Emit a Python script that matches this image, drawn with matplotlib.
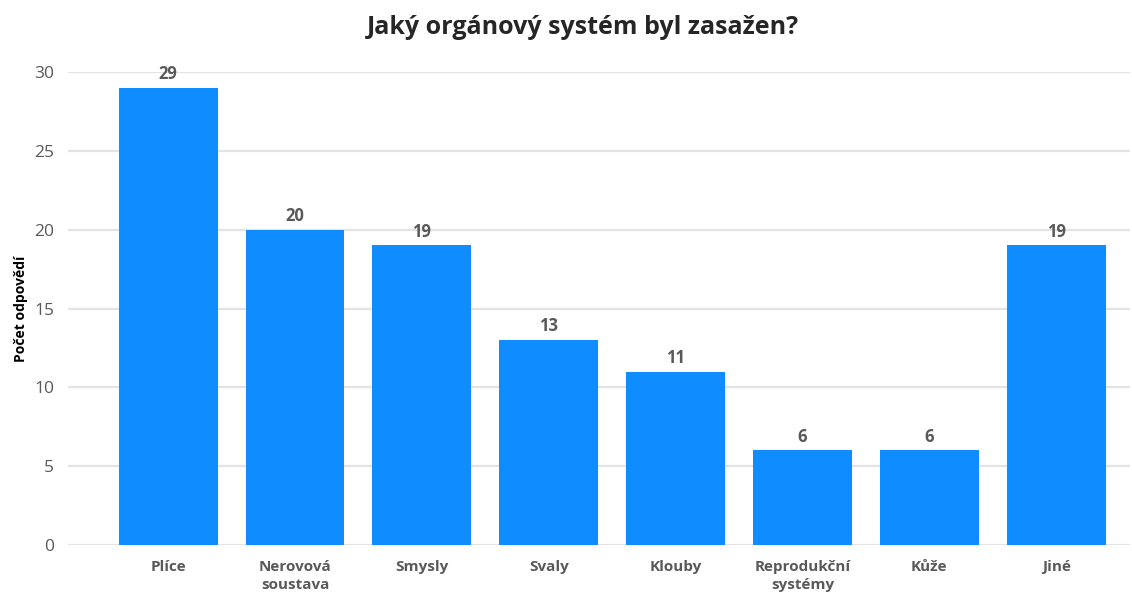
import matplotlib.pyplot as plt

categories = ['Plíce', 'Nerovová\nsoustava', 'Smysly', 'Svaly', 'Klouby',
              'Reprodukční\nsystémy', 'Kůže', 'Jiné']
counts = [29, 20, 19, 13, 11, 6, 6, 19]

plt.rcParams['font.family'] = ['Open Sans', 'DejaVu Sans']

fig = plt.figure(figsize=(11.32, 5.98), dpi=100)
ax = fig.add_axes([0.060, 0.0886, 0.938, 0.791])

x = range(len(categories))
bars = ax.bar(x, counts, width=0.78, color='#0F8CFF', zorder=3)
for b, v in zip(bars, counts):
    ax.text(b.get_x() + b.get_width() / 2, v + 0.3, str(v), ha='center', va='bottom',
            fontsize=12, fontweight='bold', color='#595959')

ax.set_ylim(0, 30)
ax.set_xlim(-0.79, 7.58)
ax.set_yticks(range(0, 31, 5))
ax.set_xticks(list(x))
ax.set_xticklabels(categories, fontsize=11, fontweight='bold', color='#595959',
                   linespacing=1.3)
ax.tick_params(axis='y', labelsize=12.5, labelcolor='#595959', length=0, pad=10)
ax.tick_params(axis='x', length=0, pad=11)
ax.yaxis.grid(True, color='#e3e3e3', linewidth=1.6, zorder=0)
ax.set_axisbelow(True)
for s in ax.spines.values():
    s.set_visible(False)

ax.set_ylabel('Počet odpovědí', fontsize=10, fontweight='bold', color='black', labelpad=4)
fig.suptitle('Jaký orgánový systém byl zasažen?', x=0.515, y=0.975, fontsize=18,
             fontweight='bold', color='#262626')

fig.savefig('out.png', dpi=100)
